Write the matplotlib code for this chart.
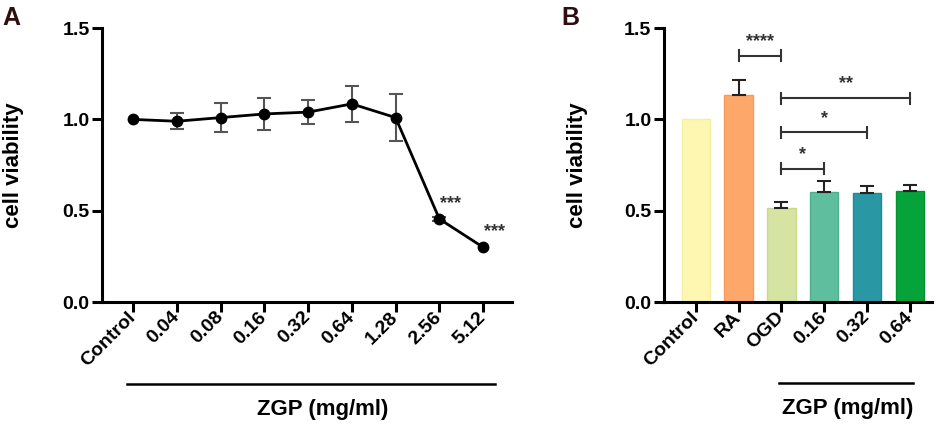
import numpy as np
import matplotlib
matplotlib.use("Agg")
import matplotlib.pyplot as plt

plt.rcParams['font.family'] = ['Liberation Sans', 'DejaVu Sans']
plt.rcParams['font.weight'] = 'bold'

# Panel A: dose response
doses_a = ["Control", "0.04", "0.08", "0.16", "0.32", "0.64", "1.28", "2.56", "5.12"]
viab_a = [1.00, 0.99, 1.01, 1.03, 1.04, 1.085, 1.01, 0.455, 0.30]
err_a = [0.0, 0.045, 0.078, 0.088, 0.064, 0.10, 0.13, 0.012, 0.0]
stars_a = ["", "", "", "", "", "", "", "***", "***"]

# Panel B: OGD model
groups_b = ["Control", "RA", "OGD", "0.16", "0.32", "0.64"]
viab_b = [1.00, 1.133, 0.517, 0.601, 0.595, 0.609]
err_b = [0.0, 0.082, 0.029, 0.062, 0.039, 0.034]
colors_b = ["#FEF7B2", "#FDA86A", "#D5E3A3", "#5FBE9E", "#2A97A4", "#06A23A"]
edges_b = ["#F7EFA0", "#F89A58", "#C9D98F", "#4DB08C", "#1F8A96", "#04912F"]
# (from group, to group, y level, label)
brackets_b = [(1, 2, 1.348, "****"), (2, 5, 1.117, "**"), (2, 4, 0.929, "*"), (2, 3, 0.729, "*")]

fig = plt.figure(figsize=(9.41, 4.26), dpi=100)
ax1 = fig.add_axes([0.1084, 0.291, 0.4357, 0.643])
ax2 = fig.add_axes([0.7056, 0.291, 0.2848, 0.643])


def style_axis(ax):
    for s in ["top", "right"]:
        ax.spines[s].set_visible(False)
    for s in ["left", "bottom"]:
        ax.spines[s].set_linewidth(2.2)
    ax.set_ylim(0, 1.5)
    ax.set_yticks([0.0, 0.5, 1.0, 1.5])
    ax.set_yticklabels(["0.0", "0.5", "1.0", "1.5"])
    ax.tick_params(axis="both", width=2.2, length=7, labelsize=14, pad=2)
    ax.set_ylabel("cell viability", fontsize=16, fontweight="bold")


# ---- A ----
xa = np.arange(len(doses_a))
has_err = np.array(err_a) > 0
ax1.errorbar(xa[has_err], np.array(viab_a)[has_err], yerr=np.array(err_a)[has_err],
             fmt="none", ecolor="#555555", elinewidth=1.5, capsize=5, capthick=1.5, zorder=2)
ax1.plot(xa, viab_a, "-o", color="black", lw=2.0, ms=7.5, zorder=3)
for x, v, s in zip(xa, viab_a, stars_a):
    if s:
        ax1.text(x + 0.25, v + 0.085, s, ha="center", va="center", fontsize=13,
                 fontweight="bold", color="#333333")
style_axis(ax1)
ax1.set_xlim(-0.71, 8.66)
ax1.set_xticks(xa)
ax1.set_xticklabels(doses_a, rotation=45, ha="right", va="center", rotation_mode="anchor")
ax1.yaxis.set_label_coords(-0.19, 0.5)
ax1.plot([-0.14, 8.27], [-0.299, -0.299], color="black", lw=1.8,
         transform=ax1.get_xaxis_transform(), clip_on=False)
ax1.text(4.34, -0.394, "ZGP (mg/ml)", transform=ax1.get_xaxis_transform(),
         ha="center", va="center", fontsize=16, fontweight="bold")
fig.text(0.002, 0.985, "A", fontsize=18, fontweight="bold", va="top", ha="left",
         color="#2d0f0f")

# ---- B ----
xb = np.arange(len(groups_b))
ax2.bar(xb, viab_b, width=0.66, color=colors_b, edgecolor=edges_b, linewidth=1, zorder=2)
has_err_b = np.array(err_b) > 0
eb = np.array(err_b)[has_err_b]
ax2.errorbar(xb[has_err_b], np.array(viab_b)[has_err_b], yerr=[np.zeros(len(eb)), eb],
             fmt="none", ecolor="#222222", elinewidth=1.5, capsize=5, capthick=1.5, zorder=3)
for a, b, y, s in brackets_b:
    ax2.plot([a, b], [y, y], color="#333333", lw=1.5)
    ax2.plot([a, a], [y - 0.03, y + 0.03], color="#333333", lw=1.5)
    ax2.plot([b, b], [y - 0.03, y + 0.03], color="#333333", lw=1.5)
    ax2.text((a + b) / 2, y + 0.03, s, ha="center", va="bottom", fontsize=13,
             fontweight="bold", color="#333333")
style_axis(ax2)
ax2.set_xlim(-0.74, 5.51)
ax2.set_xticks(xb)
ax2.set_xticklabels(groups_b, rotation=45, ha="right", va="center", rotation_mode="anchor")
ax2.yaxis.set_label_coords(-0.285, 0.5)
ax2.plot([1.94, 5.07], [-0.296, -0.296], color="black", lw=1.8,
         transform=ax2.get_xaxis_transform(), clip_on=False)
ax2.text(3.54, -0.387, "ZGP (mg/ml)", transform=ax2.get_xaxis_transform(),
         ha="center", va="center", fontsize=16, fontweight="bold")
fig.text(0.597, 0.985, "B", fontsize=18, fontweight="bold", va="top", ha="left",
         color="#2d0f0f")

fig.savefig("out.png", dpi=100)
